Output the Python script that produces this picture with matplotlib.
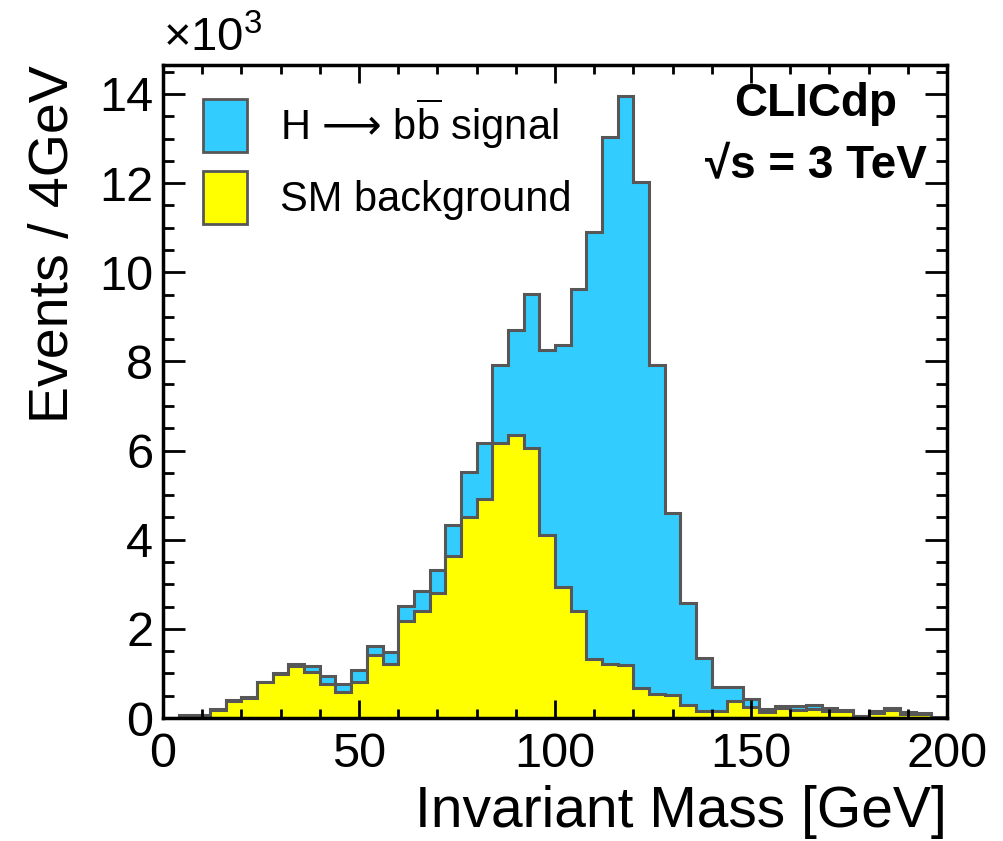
import numpy as np
import matplotlib
matplotlib.use("Agg")
import matplotlib.pyplot as plt
from matplotlib.patches import Patch
from matplotlib.ticker import MultipleLocator

plt.rcParams['font.family'] = ['Liberation Sans', 'DejaVu Sans']
plt.rcParams['mathtext.fontset'] = 'custom'
plt.rcParams['mathtext.rm'] = 'Liberation Sans'
plt.rcParams['mathtext.it'] = 'Liberation Sans:italic'
plt.rcParams['mathtext.bf'] = 'Liberation Sans:bold'
plt.rcParams['mathtext.sf'] = 'DejaVu Sans'

# ---- data (events per 4 GeV bin, in units of 10^3) ----
bin_edges = np.arange(0, 204, 4)  # 0..200 GeV, 50 bins
background = [0.00, 0.05, 0.05, 0.19, 0.38, 0.45, 0.80, 0.99, 1.17, 1.04,
              0.77, 0.59, 0.81, 1.42, 1.21, 2.17, 2.40, 2.81, 3.64, 4.51,
              4.91, 6.17, 6.36, 6.06, 4.11, 2.94, 2.41, 1.32, 1.21, 1.18,
              0.68, 0.53, 0.52, 0.29, 0.16, 0.16, 0.39, 0.25, 0.14, 0.22,
              0.18, 0.20, 0.15, 0.15, 0.04, 0.12, 0.18, 0.10, 0.10, 0.01]
signal = [0.00, 0.01, 0.01, 0.01, 0.02, 0.01, 0.01, 0.03, 0.04, 0.13,
          0.17, 0.17, 0.26, 0.19, 0.26, 0.34, 0.46, 0.52, 0.68, 1.01,
          1.26, 1.74, 2.34, 3.46, 4.15, 5.42, 7.21, 9.59, 11.82, 12.78,
          11.35, 7.38, 4.08, 2.28, 1.18, 0.53, 0.30, 0.18, 0.07, 0.05,
          0.08, 0.10, 0.07, 0.03, 0.01, 0.04, 0.04, 0.04, 0.02, 0.01]
labels = ['H $\\mathsf{\u27f6}$ b$\\overline{\\mathrm{b}}$ signal', 'SM background']
x_label = 'Invariant Mass [GeV]'
y_label = 'Events / 4GeV'

blue = '#33ccff'
yellow = '#ffff00'
edge = '#575757'

total = np.array(background) + np.array(signal)
bkg = np.array(background)

fig = plt.figure(figsize=(10.04, 8.41), dpi=100)
ax = fig.add_axes([163/1004, 1-718/841, 784/1004, 653/841])

ax.stairs(total, bin_edges, fill=True, color=blue, lw=0)
ax.stairs(total, bin_edges, fill=False, color=edge, lw=2.2)
ax.stairs(bkg, bin_edges, fill=True, color=yellow, lw=0)
ax.stairs(bkg, bin_edges, fill=False, color=edge, lw=2.2)

ax.set_xlim(0, 200)
ax.set_ylim(0, 14.65)

ax.xaxis.set_major_locator(MultipleLocator(50))
ax.xaxis.set_minor_locator(MultipleLocator(10))
ax.yaxis.set_major_locator(MultipleLocator(2))
ax.yaxis.set_minor_locator(MultipleLocator(0.5))
ax.tick_params(which='both', direction='in', top=True, right=True, width=2.0, colors='black')
ax.tick_params(axis='x', which='major', length=13, labelsize=35, pad=10)
ax.tick_params(axis='x', which='minor', length=6.5)
ax.tick_params(axis='y', which='major', length=16, labelsize=35, pad=7)
ax.tick_params(axis='y', which='minor', length=8)
for s in ax.spines.values():
    s.set_linewidth(2.5)

ax.set_xlabel(x_label, fontsize=41, loc='right', labelpad=6)
ax.set_ylabel(y_label, fontsize=40, loc='top', labelpad=14)

ax.text(0.0, 1.005, r'$\times$10$^3$', transform=ax.transAxes, fontsize=34,
        ha='left', va='bottom')

handles = [Patch(facecolor=blue, edgecolor=edge, lw=2),
           Patch(facecolor=yellow, edgecolor=edge, lw=2)]
ax.legend(handles, labels, loc='upper left', bbox_to_anchor=(0.051, 0.952),
          frameon=False, fontsize=30, handlelength=1.05, handleheight=1.58,
          labelspacing=0.45, handletextpad=0.8, borderaxespad=0, borderpad=0)

ax.text(0.833, 0.893, 'CLICdp\n\u221As = 3 TeV', transform=ax.transAxes,
        fontsize=33, fontweight='bold', ha='center', va='center',
        multialignment='center', linespacing=1.5)

fig.savefig('out.png', dpi=100)
